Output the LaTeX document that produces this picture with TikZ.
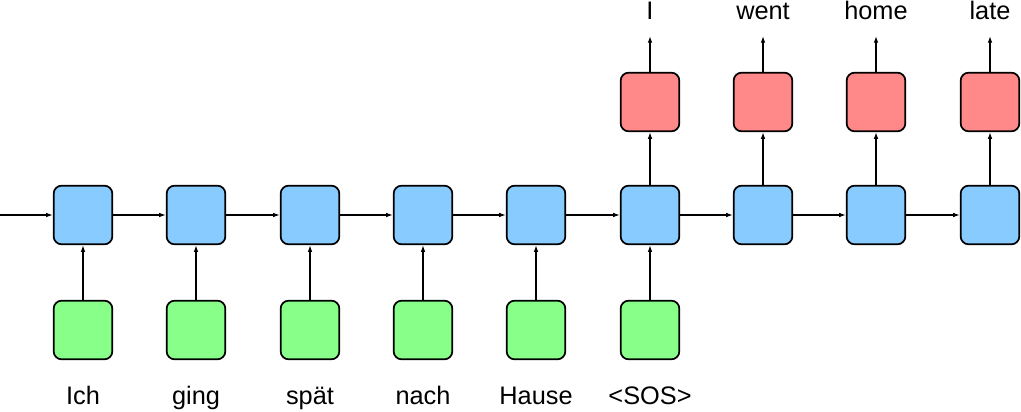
\documentclass[tikz,border=0pt]{standalone}
\usepackage{fontspec}
\setmainfont{Liberation Sans}
\usetikzlibrary{arrows.meta}
\definecolor{enccol}{RGB}{136,204,255}
\definecolor{incol}{RGB}{136,255,136}
\definecolor{outcol}{RGB}{255,136,136}
\begin{document}
\begin{tikzpicture}[x=0.75pt,y=0.75pt,
  cell/.style={draw,line width=1.3pt,rounded corners=6pt,minimum size=44pt,inner sep=0pt},
  word/.style={anchor=base,font=\fontsize{19}{22}\selectfont},
  link/.style={-{Latex[length=5pt,width=3.5pt]},line width=0.95pt}]
\useasboundingbox (0,0) rectangle (1021,411);

\node[cell,fill=enccol] (h1) at (83,196) {};
\node[cell,fill=enccol] (h2) at (196,196) {};
\node[cell,fill=enccol] (h3) at (310,196) {};
\node[cell,fill=enccol] (h4) at (423,196) {};
\node[cell,fill=enccol] (h5) at (536,196) {};
\node[cell,fill=enccol] (h6) at (650,196) {};
\node[cell,fill=enccol] (h7) at (763,196) {};
\node[cell,fill=enccol] (h8) at (876,196) {};
\node[cell,fill=enccol] (h9) at (990,196) {};

\node[cell,fill=incol] (x1) at (83,81) {};
\node[cell,fill=incol] (x2) at (196,81) {};
\node[cell,fill=incol] (x3) at (310,81) {};
\node[cell,fill=incol] (x4) at (423,81) {};
\node[cell,fill=incol] (x5) at (536,81) {};
\node[cell,fill=incol] (x6) at (650,81) {};

\node[cell,fill=outcol] (y6) at (650,309) {};
\node[cell,fill=outcol] (y7) at (763,309) {};
\node[cell,fill=outcol] (y8) at (876,309) {};
\node[cell,fill=outcol] (y9) at (990,309) {};

\node[word] (w1) at (83,7) {Ich};
\node[word] (w2) at (196,7) {ging};
\node[word] (w3) at (310,7) {spät};
\node[word] (w4) at (423,7) {nach};
\node[word] (w5) at (536,7) {Hause};
\node[word] (w6) at (650,7) {<SOS>};

\node[word] (o6) at (650,391) {I};
\node[word] (o7) at (763,391) {went};
\node[word] (o8) at (876,391) {home};
\node[word] (o9) at (990,391) {late};

\coordinate (start) at (0,196);
\coordinate (e6) at (650,375);
\coordinate (e7) at (763,375);
\coordinate (e8) at (876,375);
\coordinate (e9) at (990,375);

\draw[link] (start) -- (h1);
\draw[link] (h1) -- (h2);
\draw[link] (h2) -- (h3);
\draw[link] (h3) -- (h4);
\draw[link] (h4) -- (h5);
\draw[link] (h5) -- (h6);
\draw[link] (h6) -- (h7);
\draw[link] (h7) -- (h8);
\draw[link] (h8) -- (h9);

\draw[link] (x1) -- (h1);
\draw[link] (x2) -- (h2);
\draw[link] (x3) -- (h3);
\draw[link] (x4) -- (h4);
\draw[link] (x5) -- (h5);
\draw[link] (x6) -- (h6);

\draw[link] (h6) -- (y6);
\draw[link] (h7) -- (y7);
\draw[link] (h8) -- (y8);
\draw[link] (h9) -- (y9);

\draw[link] (y6) -- (e6);
\draw[link] (y7) -- (e7);
\draw[link] (y8) -- (e8);
\draw[link] (y9) -- (e9);
\end{tikzpicture}
\end{document}
